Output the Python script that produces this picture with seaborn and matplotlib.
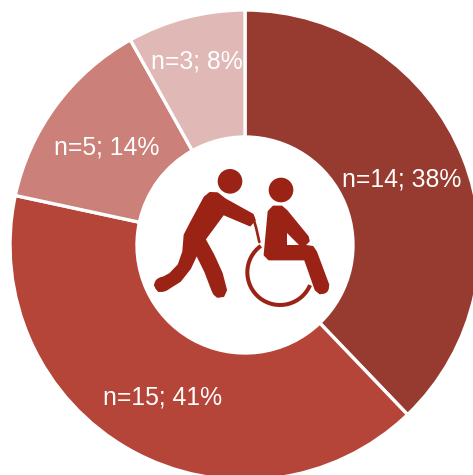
import seaborn as sns
import matplotlib.pyplot as plt
from matplotlib.patches import Arc, Circle, Polygon

counts = [14, 15, 5, 3]
labels = ["n=14; 38%", "n=15; 41%", "n=5; 14%", "n=3; 8%"]
colors = ["#973A2F", "#B54539", "#CB8079", "#E0B9B7"]
icon_color = "#9B2316"

W, H = 473, 475

sns.set_theme(style="white")
plt.rcParams["font.family"] = ["Liberation Sans", "DejaVu Sans"]

fig = plt.figure(figsize=(W / 100, H / 100), dpi=100)
ax = fig.add_axes([0, 0, 1, 1])

wedges, texts = ax.pie(
    counts,
    labels=labels,
    colors=sns.color_palette(colors),
    startangle=90,
    counterclock=False,
    center=(245, H - 245),
    radius=235,
    wedgeprops={"width": 127, "edgecolor": "white", "linewidth": 2.4},
    textprops={"color": "white", "fontsize": 17.8},
    frame=True,
)
# label spots, pixels from the top left
spots = [(402, 179), (163, 398), (107, 147), (197, 61)]
for t, (x, y) in zip(texts, spots):
    t.set_position((x, H - y))
    t.set_ha("center")
    t.set_va("center")
    t.set_zorder(5)

ax.set_xlim(0, W)
ax.set_ylim(0, H)
ax.set_aspect("equal")
ax.axis("off")


# icon was traced on a 3x crop starting at (130, 140)
def pt(x, y):
    return 130 + x / 3, H - (140 + y / 3)


def stroke(points, width):
    xs, ys = zip(*[pt(*p) for p in points])
    ax.plot(xs, ys, color=icon_color, lw=width / 3 * 0.72, solid_capstyle="round",
            solid_joinstyle="round", zorder=4)


def blob(points, color=icon_color, z=4, edge=1.5):
    ax.add_patch(Polygon([pt(*p) for p in points], closed=True, fc=color, ec=color,
                         lw=edge, joinstyle="round", zorder=z))


# carer
ax.add_patch(Circle(pt(300, 124), 37 / 3, fc=icon_color, ec="none", zorder=4))
blob([(240, 159), (262, 160), (285, 178), (368, 224), (374, 240), (360, 256), (280, 222),
      (224, 298), (250, 345), (275, 400), (288, 450), (280, 468), (262, 470), (247, 450),
      (226, 395), (200, 342), (180, 385), (150, 423), (110, 448), (86, 453), (75, 435),
      (87, 420), (120, 402), (146, 375), (160, 335), (164, 285), (182, 250), (224, 172)])
stroke([(100, 432), (95, 434)], 44)
stroke([(266, 448), (267, 451)], 42)

# handle and wheel
stroke([(370, 235), (378, 262), (388, 306)], 8)
ax.add_patch(Arc(pt(450, 397), 196 / 3, 196 / 3, theta1=126, theta2=337,
                 color=icon_color, lw=2.9, zorder=4))

# patient
ax.add_patch(Circle(pt(453, 150), 37 / 3, fc=icon_color, ec="none", zorder=4))
blob([(416, 215), (430, 200), (455, 200), (470, 213), (533, 290), (536, 303), (522, 317),
      (548, 321), (558, 336), (595, 435), (588, 453), (570, 460), (557, 449), (525, 358),
      (417, 358), (404, 345)])
stroke([(576, 440), (577, 442)], 40)
blob([(470, 278), (470, 316), (508, 316)], color="white", z=4.5, edge=0)

fig.savefig("out.png", dpi=100, facecolor="white")
